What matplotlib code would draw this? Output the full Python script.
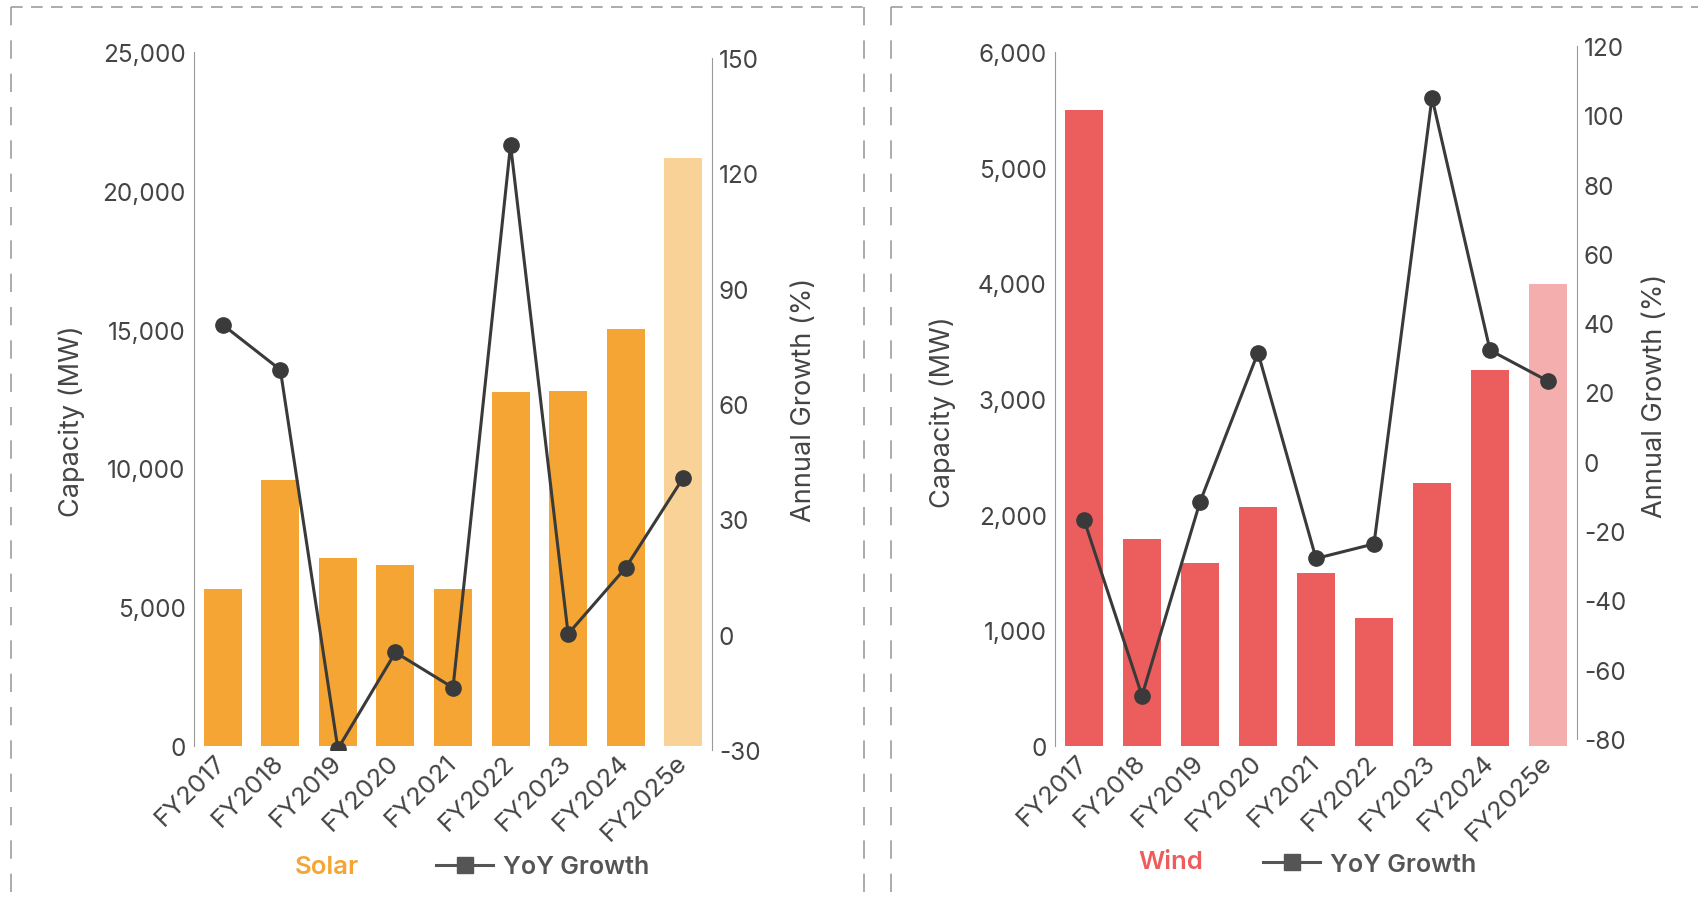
import numpy as np
import matplotlib.pyplot as plt
from matplotlib.lines import Line2D
from matplotlib.ticker import StrMethodFormatter

plt.rcParams['font.family'] = ['Inter', 'DejaVu Sans']
plt.rcParams['axes.unicode_minus'] = False

years = ["FY2017", "FY2018", "FY2019", "FY2020", "FY2021", "FY2022", "FY2023", "FY2024", "FY2025e"]

solar_mw = [5650, 9600, 6770, 6520, 5650, 12750, 12790, 15020, 21180]
solar_growth = [80.6, 68.9, -29.7, -4.6, -13.8, 127.4, 0.2, 17.4, 40.8]

wind_mw = [5500, 1790, 1580, 2065, 1495, 1107, 2275, 3250, 3995]
wind_growth = [-16.7, -67.5, -11.6, 31.5, -27.9, -23.7, 105.1, 32.2, 23.3]

W, H = 1699, 904
fig = plt.figure(figsize=(W / 100, H / 100), dpi=100)

TXT = "#444444"
LINE = "#3a3a3a"
SPINE = "#9a9a9a"


def box(x0, x1, y_top, y_bot):
    # pixel box -> figure fraction [left, bottom, width, height]
    return [x0 / W, 1 - y_bot / H, (x1 - x0) / W, (y_bot - y_top) / H]


def panel(pos1, pos2, mw, growth, col, col_est, ymax, ystep, g_lim, g_step,
          name, lab1_xy, lab2_xy, name_xy, leg_xy):
    ax = fig.add_axes(pos1)
    ax2 = fig.add_axes(pos2, sharex=ax)
    ax2.patch.set_visible(False)
    ax2.yaxis.tick_right()
    ax2.yaxis.set_label_position("right")
    ax2.xaxis.set_visible(False)

    x = np.arange(len(years))
    colors = [col] * (len(years) - 1) + [col_est]
    ax.bar(x, mw, width=0.66, color=colors, zorder=1)
    ax2.plot(x, growth, color=LINE, lw=2.2, marker="o", ms=11, zorder=3)

    ax.set_xlim(-0.5, 8.5)
    ax.set_ylim(0, ymax)
    ax.set_yticks(np.arange(0, ymax + 1, ystep))
    ax.yaxis.set_major_formatter(StrMethodFormatter("{x:,.0f}"))
    ax2.set_ylim(*g_lim)
    ax2.set_yticks(np.arange(g_lim[0], g_lim[1] + 1, g_step))

    ax.set_xticks(x)
    ax.set_xticklabels(years, rotation=45, ha="right", va="center",
                       rotation_mode="anchor", fontsize=18.5)

    for a in (ax, ax2):
        for s in a.spines.values():
            s.set_visible(False)
        a.tick_params(length=0, labelsize=17.5, colors=TXT)
    ax.spines["left"].set_visible(True)
    ax.spines["left"].set_color(SPINE)
    ax2.spines["right"].set_visible(True)
    ax2.spines["right"].set_color(SPINE)
    ax.tick_params(axis="y", pad=6)
    ax2.tick_params(axis="y", pad=5)
    ax.tick_params(axis="x", pad=9, labelsize=18.5)

    ax.set_ylabel("Capacity (MW)", fontsize=19.5, color=TXT)
    ax.yaxis.set_label_coords(*lab1_xy)
    ax2.set_ylabel("Annual Growth (%)", fontsize=19.5, color=TXT)
    ax2.yaxis.set_label_coords(*lab2_xy)

    ax.text(*name_xy, name, transform=ax.transAxes, ha="center", va="center",
            fontsize=18.5, fontweight="semibold", color=col)
    handle = Line2D([], [], color="#555555", lw=2.2, marker="s", ms=12)
    leg = ax.legend([handle], ["YoY Growth"], frameon=False, loc="center left",
                    bbox_to_anchor=leg_xy, fontsize=18, handlelength=2.3,
                    handletextpad=0.4, borderpad=0, borderaxespad=0)
    leg.get_texts()[0].set_color("#555555")
    leg.get_texts()[0].set_fontweight("semibold")
    return ax, ax2


panel(box(194, 712, 53, 747), box(194, 712, 59, 751), solar_mw, solar_growth,
      "#F4A533", "#F8D296", 25000, 5000, (-30, 150), 30, "Solar",
      (-0.21, 0.47), (1.152, 0.508), (0.257, -0.174), (0.467, -0.174))

panel(box(1055, 1577, 53, 747), box(1055, 1577, 47, 740), wind_mw, wind_growth,
      "#EC5E5E", "#F4AEAE", 6000, 1000, (-80, 120), 20, "Wind",
      (-0.19, 0.483), (1.125, 0.497), (0.222, -0.167), (0.398, -0.171))

# dashed panel frames
dash_h = (0, (7, 5))
dash_v = (0, (11, 9))
for xs, ys, ls in [
    ([11, 864], [8, 8], dash_h), ([11, 11], [8, 920], dash_v), ([864, 864], [8, 920], dash_v),
    ([891, 1720], [8, 8], dash_h), ([891, 891], [8, 920], dash_v),
]:
    fig.add_artist(Line2D([v / W for v in xs], [1 - v / H for v in ys],
                          transform=fig.transFigure, color="#9d9d9d", lw=1.2, linestyle=ls))

fig.savefig("out.png", dpi=100)
